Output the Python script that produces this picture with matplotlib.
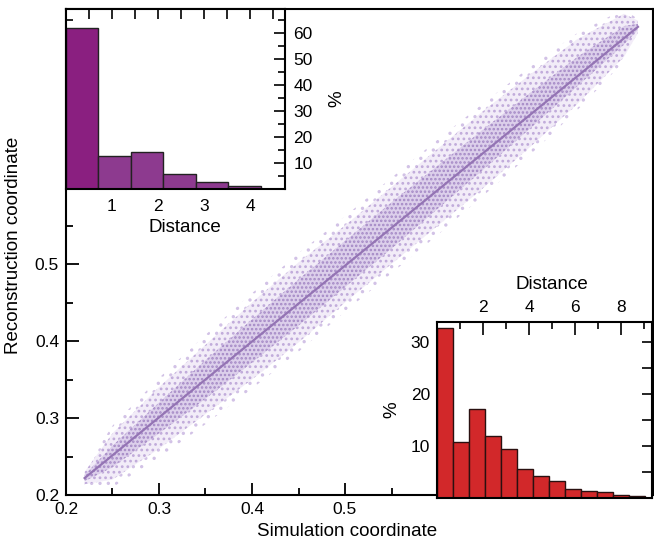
import matplotlib
matplotlib.use("Agg")
import matplotlib.pyplot as plt
from matplotlib.ticker import MultipleLocator

plt.rcParams['font.family'] = ['Liberation Sans', 'DejaVu Sans']
plt.rcParams['hatch.linewidth'] = 1.2

# ---- data ----
# diagonal trend line (simulation vs reconstruction)
line_x = [0.22, 0.815]
line_y = [0.222, 0.808]
# point cloud envelope
band_x = [0.22, 0.25, 0.30, 0.35, 0.40, 0.45, 0.50, 0.55, 0.60, 0.65, 0.70, 0.75, 0.80, 0.815]
band_c = [0.222, 0.25, 0.30, 0.35, 0.40, 0.45, 0.50, 0.55, 0.60, 0.65, 0.70, 0.75, 0.797, 0.808]
far_hw = [0.012, 0.04, 0.052, 0.058, 0.062, 0.064, 0.062, 0.062, 0.062, 0.06, 0.057, 0.05, 0.034, 0.01]
outer_hw = [0.008, 0.03, 0.04, 0.045, 0.05, 0.052, 0.05, 0.05, 0.05, 0.05, 0.047, 0.042, 0.028, 0.008]
inner_hw = [0.004, 0.014, 0.02, 0.025, 0.028, 0.03, 0.03, 0.03, 0.028, 0.026, 0.023, 0.019, 0.012, 0.004]

# upper-left inset histogram (purple)
h1_width = 0.705
h1_left = [0.0, 0.705, 1.41, 2.115, 2.82, 3.525]
h1_pct = [62.0, 12.7, 14.2, 5.8, 2.7, 1.0]
h1_xticks = [1, 2, 3, 4]
h1_yticks = [10, 20, 30, 40, 50, 60]

# lower-right inset histogram (red)
h2_width = 0.696
h2_left = [0.0, 0.696, 1.392, 2.088, 2.784, 3.48, 4.176, 4.872, 5.568, 6.264, 6.96, 7.656, 8.352]
h2_pct = [32.6, 10.6, 17.0, 11.9, 9.4, 5.5, 4.2, 3.1, 1.7, 1.3, 1.0, 0.45, 0.2]
h2_xticks = [2, 4, 6, 8]
h2_yticks = [10, 20, 30]

main_ticks = [0.2, 0.3, 0.4, 0.5, 0.6, 0.7, 0.8]
main_labels = ['0.2', '0.3', '0.4', '0.5', '', '', '']

W, H = 654, 546
fig = plt.figure(figsize=(W / 100, H / 100), dpi=100)

def rect(l, t, r, b):
    return [l / W, 1 - b / H, (r - l) / W, (b - t) / H]

# ---- main axes ----
ax = fig.add_axes(rect(66, 9, 653, 495))
ax.set_xlim(0.2, 0.2 + 587 / 930)
ax.set_ylim(0.2, 0.2 + 486 / 770)

def band(hw):
    return ([c - h for c, h in zip(band_c, hw)], [c + h for c, h in zip(band_c, hw)])

lo, hi = band(far_hw)
ax.fill_between(band_x, lo, hi, facecolor='none', edgecolor='#d2c2e6',
                hatch='..', linewidth=0, zorder=1)
lo, hi = band(outer_hw)
ax.fill_between(band_x, lo, hi, facecolor='#f2ecf8', edgecolor='#c0aada',
                hatch='...', linewidth=0, zorder=1)
lo, hi = band(inner_hw)
ax.fill_between(band_x, lo, hi, facecolor='#dccfeb', edgecolor='#a488c5',
                hatch='....', linewidth=0, zorder=2)
ax.plot(line_x, line_y, color='#9474b4', lw=1.6, zorder=3)

ax.set_xticks(main_ticks)
ax.set_xticklabels(main_labels)
ax.set_yticks(main_ticks)
ax.set_yticklabels(main_labels)
ax.xaxis.set_minor_locator(MultipleLocator(0.05))
ax.yaxis.set_minor_locator(MultipleLocator(0.05))
ax.tick_params(which='both', direction='in', top=False, right=False, labelsize=12.5, pad=5)
ax.tick_params(which='major', length=9, width=1.3)
ax.tick_params(which='minor', length=5, width=1.3)
for s in ax.spines.values():
    s.set_linewidth(1.5)
ax.set_xlabel('Simulation coordinate', fontsize=13.5)
ax.xaxis.set_label_coords((347 - 66) / 587, -0.058)
ax.set_ylabel('Reconstruction coordinate', fontsize=13.5)
ax.yaxis.set_label_coords(-0.075, 0.514)

# ---- inset 1 (purple) ----
a1 = fig.add_axes(rect(66, 9, 285, 189))
a1.set_zorder(5)
a1.set_facecolor('white')
a1.set_axisbelow(True)
colors1 = ['#8a1f80'] + ['#8d3a8f'] * 5
a1.bar(h1_left, h1_pct, width=h1_width, align='edge', color=colors1,
       edgecolor='#222222', linewidth=1.0, zorder=2)
a1.set_xlim(0, 219 / 46)
a1.set_ylim(0, 180 / 2.6)
a1.set_xticks(h1_xticks)
a1.xaxis.set_minor_locator(MultipleLocator(0.5))
a1.set_yticks(h1_yticks)
a1.yaxis.set_minor_locator(MultipleLocator(5))
a1.tick_params(axis='x', which='both', direction='in', bottom=False, top=True,
               labelbottom=True, labelsize=12.5, pad=7, length=7, width=1.2)
a1.tick_params(axis='y', which='both', direction='in', left=True, right=True,
               labelleft=False, labelright=True, labelsize=12.5, pad=6, width=1.2)
a1.tick_params(axis='y', which='major', length=8)
a1.tick_params(axis='y', which='minor', length=5)
for s in a1.spines.values():
    s.set_linewidth(1.5)
    s.set_zorder(3)
a1.set_xlabel('Distance', fontsize=13.5)
a1.xaxis.set_label_coords((185 - 66) / 219, -0.165)
a1.yaxis.set_label_position('right')
a1.set_ylabel('%', fontsize=13.5)
a1.yaxis.set_label_coords(1.2, 0.5)

# ---- inset 2 (red) ----
a2 = fig.add_axes(rect(437, 322, 652, 497.5))
a2.set_zorder(5)
a2.set_facecolor('white')
a2.set_axisbelow(True)
a2.bar(h2_left, h2_pct, width=h2_width, align='edge', color='#d2282a',
       edgecolor='#2a1010', linewidth=1.0, zorder=2)
a2.set_xlim(0, 215 / 23)
a2.set_ylim(0, 175.5 / 5.2)
a2.set_xticks(h2_xticks)
a2.xaxis.set_minor_locator(MultipleLocator(1))
a2.set_yticks(h2_yticks)
a2.yaxis.set_minor_locator(MultipleLocator(5))
a2.xaxis.tick_top()
a2.tick_params(axis='x', which='both', direction='in', top=True, bottom=False,
               labeltop=True, labelbottom=False, labelsize=12.5, pad=5, width=1.2)
a2.tick_params(axis='x', which='major', length=9)
a2.tick_params(axis='x', which='minor', length=5)
a2.tick_params(axis='y', which='both', direction='in', left=True, right=True,
               labelleft=True, labelright=False, labelsize=12.5, pad=5, width=1.2, length=7)
for s in a2.spines.values():
    s.set_linewidth(1.5)
    s.set_zorder(3)
a2.xaxis.set_label_position('top')
a2.set_xlabel('Distance', fontsize=13.5)
a2.xaxis.set_label_coords((552 - 437) / 215, 1.19)
a2.set_ylabel('%', fontsize=13.5)
a2.yaxis.set_label_coords(-0.17, 0.5)

fig.savefig('out.png', dpi=100)
